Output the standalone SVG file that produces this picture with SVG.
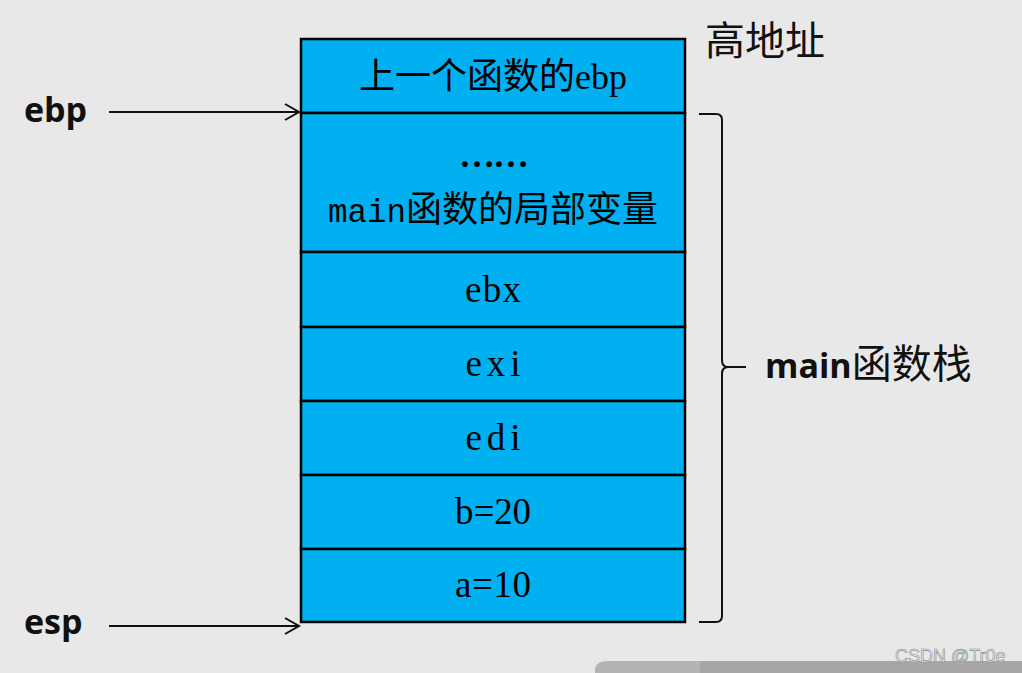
<svg xmlns="http://www.w3.org/2000/svg" width="1022" height="673" viewBox="0 0 1022 673">
<defs>
<style>
.cell{fill:#00b0f0;stroke:#000;stroke-width:2.5}
.t{font-family:"Liberation Serif","Noto Sans CJK SC",serif;font-size:36px;fill:#000;text-anchor:middle}
.m{font-family:"Liberation Serif","Noto Sans CJK SC",serif;font-size:37px;fill:#000;text-anchor:middle}
.lbl{font-family:"Open Sans","Liberation Sans","Noto Sans CJK SC",sans-serif;font-weight:bold;font-size:34px;fill:#111}
.con{fill:none;stroke:#111;stroke-width:2}
</style>
</defs>
<rect width="1022" height="673" fill="#e8e8e8"/>
<path d="M595 673 L595 668 Q597 661 608 661 L1022 661 L1022 673 Z" fill="#b4b4b4"/>
<rect x="700" y="661" width="322" height="12" fill="#a6a6a6"/>
<g id="stack">
<g id="n-prev-ebp"><rect class="cell" x="301" y="39" width="384" height="74"/><text class="t" x="493" y="89">上一个函数的ebp</text></g>
<g id="n-locals"><rect class="cell" x="301" y="113" width="384" height="139"/><text class="t" x="493" y="167" font-weight="bold" letter-spacing="-2">……</text><text class="t" x="493" y="222"><tspan font-family="Liberation Mono,monospace" font-size="32.5">main</tspan>函数的局部变量</text></g>
<g id="n-ebx"><rect class="cell" x="301" y="252" width="384" height="75"/><text class="m" x="493" y="302" textLength="56" lengthAdjust="spacing">ebx</text></g>
<g id="n-exi"><rect class="cell" x="301" y="327" width="384" height="74"/><text class="m" x="493" y="376" textLength="55" lengthAdjust="spacing">exi</text></g>
<g id="n-edi"><rect class="cell" x="301" y="401" width="384" height="74"/><text class="m" x="493" y="450" textLength="55" lengthAdjust="spacing">edi</text></g>
<g id="n-b"><rect class="cell" x="301" y="475" width="384" height="74"/><text class="m" x="493" y="524" textLength="76" lengthAdjust="spacing">b=20</text></g>
<g id="n-a"><rect class="cell" x="301" y="549" width="384" height="73"/><text class="m" x="493" y="597" textLength="76" lengthAdjust="spacing">a=10</text></g>
</g>
<g id="n-high"><text x="705" y="55" font-family="Noto Sans CJK SC,sans-serif" font-size="40" fill="#111">高地址</text></g>
<g id="n-ebp-label"><text class="lbl" x="24" y="122">ebp</text></g>
<g id="n-esp-label"><text class="lbl" x="24" y="634">esp</text></g>
<g id="n-main-stack"><text class="lbl" x="765" y="378">main<tspan font-weight="normal" font-family="Noto Sans CJK SC,sans-serif" font-size="40">函数栈</tspan></text></g>
<g id="connectors">
<path class="con" d="M109 112 H298 M285 104 L299 112 L285 120"/>
<path class="con" d="M109 626 H298 M285 618 L299 626 L285 634"/>
<path class="con" d="M699 114 H716 Q722 114 722 120 V360 Q722 367 728 367 Q722 367 722 374 V616 Q722 622 716 622 H699 M726 367 H746"/>
</g>
<text x="895" y="662" font-family="Liberation Sans,sans-serif" font-size="18" fill="#ececec" stroke="#8a8a8a" stroke-width="0.6">CSDN @Tr0e</text>
</svg>
